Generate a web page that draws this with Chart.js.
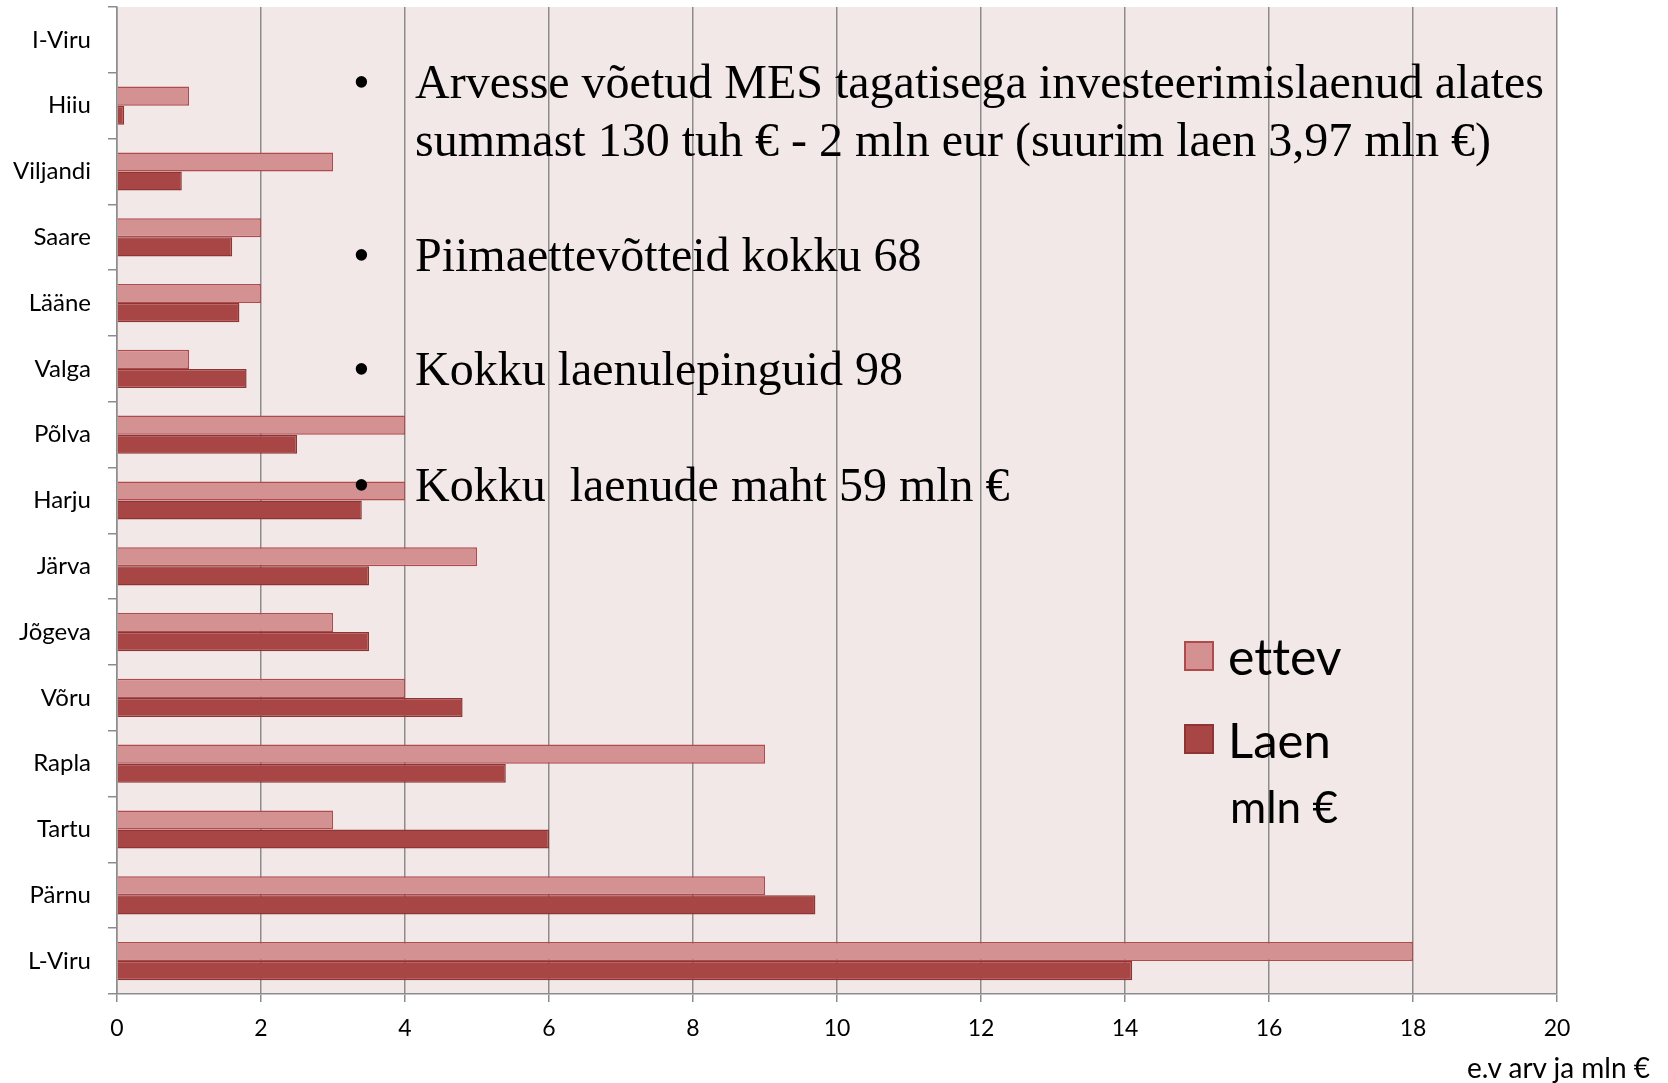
<!DOCTYPE html>
<html>
<head>
<meta charset="utf-8">
<script src="https://cdn.jsdelivr.net/npm/chart.js@4"></script>
<style>
  html, body { margin: 0; padding: 0; background: #ffffff; }
  #wrap { position: relative; width: 1668px; height: 1083px; overflow: hidden; }
  #c { position: absolute; left: 0; top: 0; }
  .note { position: absolute; font-family: "Liberation Serif", "DejaVu Serif", serif; font-size: 48px; color: #000; white-space: nowrap; }
  .note .b { position: absolute; left: -62px; }
  .leg { position: absolute; font-family: Lato, "Open Sans", sans-serif; color: #000; white-space: nowrap; font-variant-ligatures: none; font-feature-settings: "liga" 0; }
  .sw { position: absolute; width: 30px; height: 30px; box-sizing: border-box; border: 2px solid; }
  #xtitle { position: absolute; right: 18px; top: 1050px; font-family: Lato, "Open Sans", sans-serif; font-size: 28px; color: #000; }
</style>
</head>
<body>
<div id="wrap">
  <canvas id="c" width="1668" height="1083"></canvas>
  <div class="note" style="left:415px; top:53px; line-height:58px;"><span class="b">•</span>Arvesse võetud MES tagatisega investeerimislaenud alates<br>summast 130 tuh € - 2 mln eur (suurim laen 3,97 mln €)</div>
  <div class="note" style="left:415px; top:226px; line-height:58px;"><span class="b">•</span>Piimaettevõtteid kokku 68</div>
  <div class="note" style="left:415px; top:340px; line-height:58px;"><span class="b">•</span>Kokku laenulepinguid 98</div>
  <div class="note" style="left:415px; top:456px; line-height:58px;"><span class="b">•</span>Kokku&nbsp; laenude maht 59 mln €</div>
  <div id="legend"></div>
  <div id="xtitle">e.v arv ja mln €</div>
</div>
<script>
const categories = ["I-Viru","Hiiu","Viljandi","Saare","Lääne","Valga","Põlva","Harju","Järva","Jõgeva","Võru","Rapla","Tartu","Pärnu","L-Viru"];
const ettevValues = [0, 1, 3, 2, 2, 1, 4, 4, 5, 3, 4, 9, 3, 9, 18];
const laenValues  = [0, 0.1, 0.9, 1.6, 1.7, 1.8, 2.5, 3.4, 3.5, 3.5, 4.8, 5.4, 6.0, 9.7, 14.1];
const seriesNames = ["ettev", "Laen"];
const legendExtra = "mln €";
const xTicks = [0, 2, 4, 6, 8, 10, 12, 14, 16, 18, 20];

const plotBg = {
  id: 'plotBg',
  beforeDraw(chart) {
    const a = chart.chartArea, ctx = chart.ctx;
    ctx.save();
    ctx.fillStyle = '#F2E8E8';
    ctx.fillRect(a.left, a.top, a.right - a.left, a.bottom - a.top);
    ctx.restore();
  }
};

const chart = new Chart(document.getElementById('c'), {
  type: 'bar',
  data: {
    labels: categories,
    datasets: [
      { label: seriesNames[0], data: ettevValues, backgroundColor: '#D39192', borderColor: '#B04A4C', borderWidth: 1.5 },
      { label: seriesNames[1], data: laenValues, backgroundColor: '#A84545', borderColor: '#8E3434', borderWidth: 1.5 }
    ]
  },
  options: {
    indexAxis: 'y',
    responsive: false,
    animation: false,
    devicePixelRatio: 1,
    datasets: { bar: { categoryPercentage: 0.58, barPercentage: 1.0, borderSkipped: 'start' } },
    layout: { padding: { top: 7, right: 111, left: 0, bottom: 0 } },
    plugins: { legend: { display: false }, tooltip: { enabled: false } },
    scales: {
      x: {
        min: 0, max: 20,
        afterBuildTicks(s) { s.ticks = xTicks.map(v => ({ value: v })); },
        afterFit(s) { s.height = 89; s.paddingLeft = 0; s.paddingRight = 0; },
        grid: { color: '#8C8C8C', lineWidth: 1.5, tickLength: 8, drawTicks: true },
        border: { color: '#8C8C8C', width: 1.5 },
        ticks: { color: '#000', font: { family: 'Lato', size: 23 }, padding: 13 }
      },
      y: {
        afterFit(s) { s.width = 117; s.paddingTop = 0; s.paddingBottom = 0; },
        grid: { drawOnChartArea: false, color: '#8C8C8C', lineWidth: 1.5, tickLength: 9, offset: true },
        border: { color: '#8C8C8C', width: 1.5 },
        ticks: { color: '#000', font: { family: 'Lato', size: 24 }, padding: 17 }
      }
    }
  },
  plugins: [plotBg]
});

// Legend built from the datasets
const leg = document.getElementById('legend');
const legPos = [656, 739];
const legSize = [50, 49];
chart.data.datasets.forEach((ds, i) => {
  const sw = document.createElement('div');
  sw.className = 'sw';
  sw.style.left = '1184px';
  sw.style.top = (legPos[i] - 15) + 'px';
  sw.style.background = ds.backgroundColor;
  sw.style.borderColor = ds.borderColor;
  leg.appendChild(sw);
  const t = document.createElement('div');
  t.className = 'leg';
  t.style.left = '1228px';
  t.style.top = (legPos[i] - 32) + 'px';
  t.style.fontSize = legSize[i] + 'px';
  t.style.lineHeight = '64px';
  t.textContent = ds.label;
  leg.appendChild(t);
});
const ex = document.createElement('div');
ex.className = 'leg';
ex.style.left = '1230px';
ex.style.top = '779px';
ex.style.fontSize = '44px';
ex.style.lineHeight = '54px';
ex.textContent = legendExtra;
leg.appendChild(ex);
</script>
</body>
</html>
